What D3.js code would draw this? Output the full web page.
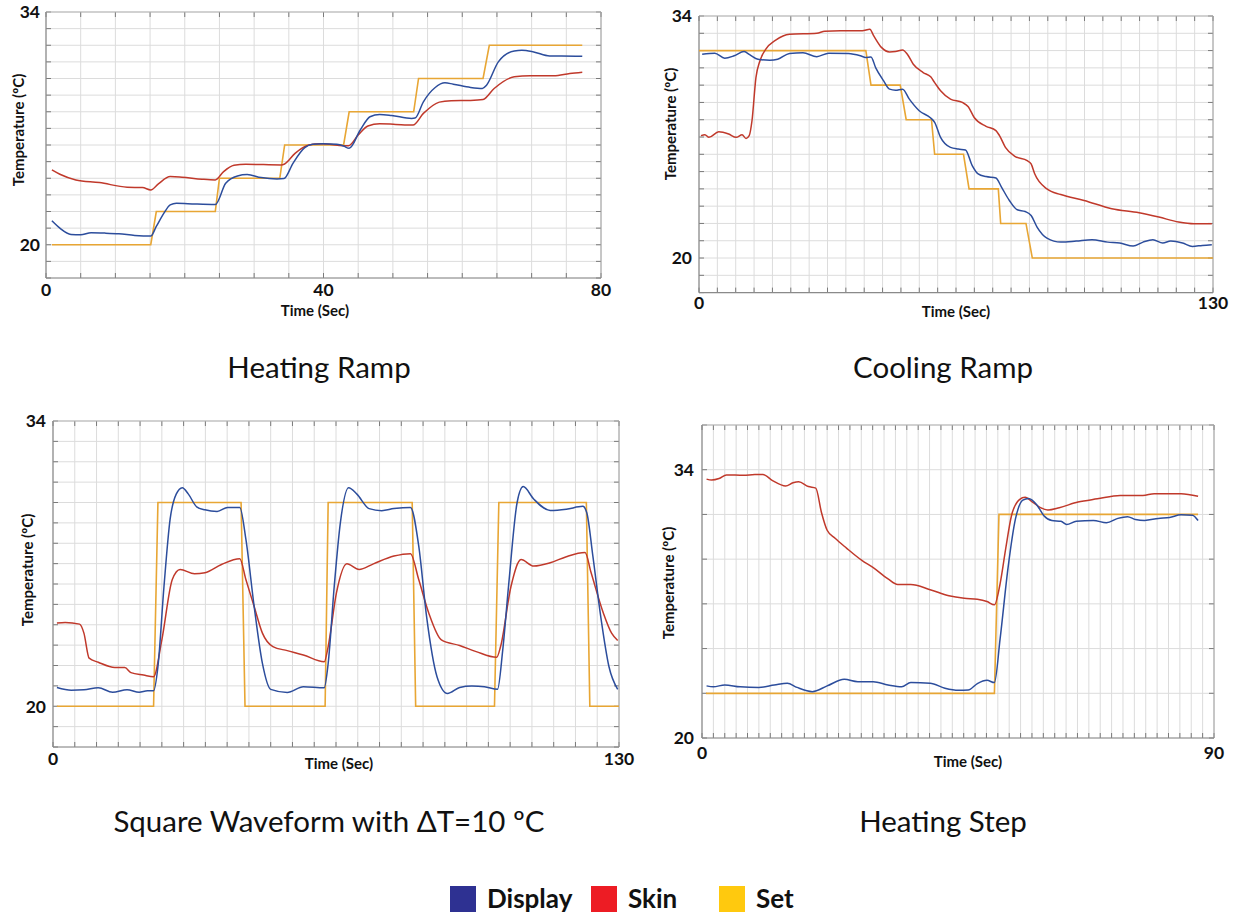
<!DOCTYPE html>
<html><head><meta charset="utf-8">
<script src="https://cdn.jsdelivr.net/npm/d3@7"></script>
<style>body{margin:0;background:#fff}svg{display:block}</style>
</head><body><svg id="c" width="1237" height="915"></svg>
<script>
// ---------- DATA ----------
const seriesNames = ["Display", "Skin", "Set"];
const panelTitles = ["Heating Ramp", "Cooling Ramp", "Square Waveform with \u0394T=10 \u00baC", "Heating Step"];
const yAxisTitle = "Temperature (\u00baC)";
const xAxisTitle = "Time (Sec)";

const rampUpYTicks = [34, 20], rampUpXTicks = [0, 40, 80];
const rampDownYTicks = [34, 20], rampDownXTicks = [0, 130];
const squareYTicks = [34, 20], squareXTicks = [0, 130];
const stepYTicks = [34, 20], stepXTicks = [0, 90];

// Heating ramp
const rampUpSet = [[0.85,20],[15.1,20],[15.9,22],[24.4,22],[25.0,24],[33.7,24],[34.4,26],[42.9,26],[43.7,28],[53.0,28],[53.7,30],[63.0,30],[63.9,32],[77.3,32]];
const rampUpDisplay = [[0.85,21.44],[2.0,21.0],[3.6,20.62],[5.0,20.6],[6.5,20.72],[8.5,20.7],[10.5,20.66],[12.8,20.56],[15.1,20.52],[15.9,21.1],[17.0,21.9],[17.9,22.4],[18.8,22.5],[21.5,22.45],[24.4,22.42],[25.9,23.7],[27.6,24.14],[29.0,24.22],[31.0,24.04],[33.3,23.96],[34.3,23.98],[35.6,24.9],[37.3,25.84],[38.4,26.04],[39.9,26.08],[41.9,26.04],[42.9,25.94],[43.7,25.8],[45.3,26.9],[46.7,27.7],[48.1,27.84],[49.8,27.78],[52.7,27.6],[53.2,27.62],[54.4,28.6],[56.1,29.46],[57.5,29.74],[58.7,29.66],[61.2,29.46],[62.9,29.4],[63.5,29.6],[65.2,31.0],[67.5,31.66],[68.6,31.7],[70.3,31.6],[72.6,31.36],[74.3,31.36],[77.3,31.34]];
const rampUpSkin = [[0.85,24.5],[2.0,24.24],[4.3,23.9],[7.7,23.74],[11.7,23.46],[13.9,23.44],[15.1,23.3],[16.2,23.66],[17.9,24.1],[19.6,24.06],[22.5,23.94],[24.4,23.9],[25.6,24.4],[27.1,24.78],[28.8,24.84],[33.9,24.8],[34.4,24.86],[35.9,25.5],[37.9,26.0],[39.6,26.08],[42.9,25.96],[43.6,25.95],[45.0,26.6],[46.4,27.14],[48.1,27.28],[50.4,27.24],[52.9,27.2],[54.4,27.9],[56.7,28.58],[58.4,28.66],[61.2,28.68],[63.0,28.74],[64.6,29.4],[67.5,30.1],[69.8,30.16],[73.2,30.16],[75.5,30.3],[77.3,30.38]];

// Cooling ramp
const rampDownSet = [[0,32],[42.2,32],[43.5,30],[50.9,30],[52.4,28],[58.8,28],[59.6,26],[66.9,26],[68.3,24],[75.7,24],[76.3,22],[82.7,22],[84.3,20],[130,20]];
const rampDownDisplay = [[0.8,31.79],[4,31.85],[6.5,31.56],[8.9,31.7],[11.4,31.94],[12.9,31.75],[14.9,31.5],[17.9,31.44],[19.9,31.5],[22.9,31.83],[26.3,31.87],[29.8,31.65],[32.8,31.85],[37.8,31.83],[40.8,31.7],[42.2,31.6],[43.5,31.63],[44.7,31.0],[46.7,30.25],[48.2,29.77],[49.7,29.71],[51.5,29.77],[53.2,29.19],[55.7,28.52],[58.6,28.1],[59.6,27.85],[61.1,26.98],[63.6,26.4],[65.6,26.3],[67.4,26.25],[69.1,25.35],[70.6,24.87],[72.6,24.71],[75.1,24.63],[76.5,24.1],[78.5,23.33],[80.5,22.79],[82.5,22.69],[84,22.46],[85.5,21.79],[88,21.15],[91.5,20.92],[95.4,20.98],[99.4,21.06],[103.4,20.92],[106.4,20.87],[109.8,20.69],[112.3,20.92],[114.8,21.06],[117.3,20.87],[119.3,20.98],[122.3,20.87],[124.8,20.67],[127.3,20.73],[129.7,20.77]];
const rampDownSkin = [[0.5,27.08],[1.5,27.13],[2.5,26.98],[5,27.3],[7.5,27.17],[9.4,26.98],[10.9,27.13],[11.9,26.92],[12.7,27.08],[13.4,27.94],[14.4,30.44],[15.4,31.4],[16.9,32.08],[19.4,32.6],[22.9,32.94],[29.8,33.0],[31.8,33.12],[35.8,33.15],[41.3,33.15],[43.2,33.23],[44.2,32.85],[46.2,32.17],[48.2,31.92],[49.7,31.94],[51.5,32.04],[52.7,31.79],[54.2,31.21],[56.7,30.73],[58.6,30.48],[59.6,30.15],[61.1,29.67],[63.6,29.19],[66.6,29.0],[68.1,28.75],[69.6,28.13],[72.6,27.62],[75.1,27.37],[76.0,27.08],[77.5,26.4],[80.0,25.87],[83.0,25.63],[84,25.44],[84.9,24.87],[88,24.0],[91.5,23.67],[97.4,23.33],[104.4,22.85],[111.3,22.62],[116.3,22.37],[121.3,22.08],[125.2,21.98],[129.7,21.98]];

// Square waveform
const squareSet = [[0.9,20],[23.1,20],[24.1,30],[43.2,30],[44.1,20],[62.5,20],[63.2,30],[82.5,30],[83.3,20],[101.4,20],[102.4,30],[122.5,30],[123.3,20],[130,20]];
const squareDisplay = [[0.9,20.92],[4.2,20.79],[7.1,20.81],[10.4,20.91],[13.7,20.69],[17,20.81],[19.8,20.69],[21.7,20.76],[23.1,20.76],[24.1,21.94],[25.5,25.9],[26.9,29.18],[28.3,30.41],[29.7,30.73],[31.1,30.41],[33,29.79],[34.9,29.64],[37.7,29.56],[40.1,29.76],[42.9,29.76],[44.3,28.2],[46.2,24.9],[48.1,22.1],[50,20.83],[53.8,20.68],[57.5,20.96],[62.3,20.91],[63.2,22.1],[64.6,25.9],[66,29.0],[67.9,30.73],[69.8,30.41],[72.6,29.7],[75.5,29.6],[78.3,29.7],[82.1,29.76],[84,27.87],[85.8,24.41],[88.2,21.45],[90.6,20.63],[93.4,20.92],[96.2,20.99],[99.1,20.96],[102.1,20.83],[103.3,22.77],[104.7,26.06],[106.6,30.0],[108.0,30.78],[110.4,30.17],[114.2,29.61],[117.9,29.67],[121.7,29.81],[122.6,29.5],[124,27.37],[125.8,24.41],[127.7,21.94],[129.7,20.83]];
const squareSkin = [[0.9,24.08],[2.8,24.11],[6.1,24.03],[7.1,23.59],[8.3,22.36],[10.4,22.16],[14.2,21.9],[16.5,21.9],[17.9,21.65],[20.8,21.53],[23.1,21.45],[25,23.26],[27.4,26.22],[29.2,26.71],[32.5,26.5],[34.9,26.55],[38.7,26.96],[42.9,27.24],[44.3,26.22],[46.2,24.9],[48.1,23.59],[50.5,22.93],[53.8,22.73],[57.5,22.52],[62.3,22.19],[63.2,22.93],[65.1,25.56],[67.5,26.99],[70.3,26.71],[73.6,26.99],[78.3,27.37],[82.1,27.49],[84,26.22],[86.3,24.58],[89.2,23.26],[93.4,22.98],[97.2,22.68],[101.9,22.4],[102.8,22.93],[105.2,25.89],[107.5,27.2],[110.4,26.88],[114.2,27.04],[117.9,27.34],[122.2,27.54],[123.6,26.55],[126.4,24.58],[128.3,23.59],[129.7,23.23]];

// Heating step
const stepSet = [[0.7,22.33],[51.4,22.33],[52.2,31.67],[87.2,31.67]];
const stepDisplay = [[0.8,22.72],[2,22.67],[4,22.77],[6.7,22.67],[10,22.64],[12.7,22.76],[15,22.86],[16.7,22.64],[19.4,22.42],[22,22.72],[25,23.06],[27.4,22.94],[30.1,22.94],[32.7,22.77],[35.1,22.67],[36.7,22.89],[40.1,22.86],[42.7,22.6],[45.1,22.49],[46.8,22.5],[48.4,22.84],[50.1,23.01],[51.4,22.89],[52.4,25.17],[53.8,28.89],[55.1,31.43],[56.4,32.41],[57.4,32.5],[58.8,32.19],[60.1,31.6],[61.5,31.35],[63.1,31.31],[64.1,31.14],[65.8,31.31],[68.8,31.35],[71.1,31.23],[73.1,31.46],[74.8,31.55],[76.2,31.4],[77.8,31.35],[80.2,31.46],[82.2,31.51],[84.2,31.65],[86.2,31.63],[87.2,31.35]];
const stepSkin = [[0.8,33.51],[1.7,33.46],[3,33.54],[4.3,33.73],[7.3,33.71],[9.3,33.75],[10.7,33.75],[12.4,33.43],[14.7,33.15],[16.0,33.32],[17,33.37],[18.7,33.12],[20,33.04],[21,31.77],[22,30.84],[23.4,30.42],[25.4,29.91],[28.1,29.27],[30.1,28.89],[32.7,28.3],[34.4,28.01],[36.7,28.01],[40.1,27.74],[43.4,27.42],[46.1,27.29],[48.4,27.24],[50.1,27.12],[51.4,26.95],[52.4,28.05],[53.4,29.91],[54.4,31.6],[55.8,32.44],[56.8,32.56],[58.1,32.31],[59.5,32.02],[60.8,31.9],[62.8,32.02],[66.1,32.31],[69.5,32.48],[73.5,32.66],[77.5,32.66],[79.5,32.75],[84.2,32.75],[87.2,32.61]];

// ---------- STYLE / LAYOUT ----------
const lineColors = {Display: "#2c4d9c", Skin: "#c0392b", Set: "#e8a634"};
const legendColors = {Display: "#2e3192", Skin: "#ed1c24", Set: "#ffc90e"};
const FONT = "Lato, 'Open Sans', sans-serif";

const panels = [
  {title: panelTitles[0], titlePos: [319, 378],
   box: {l: 46, r: 601, t: 12, b: 278}, xDom: [0, 80], yDom: [18, 34],
   xGrid: d3.range(0, 80.01, 5), yGrid: d3.range(18, 34.01, 1),
   xTicks: rampUpXTicks, yTicks: rampUpYTicks, xLabDy: 18, yLabDx: -6,
   xTitle: [315, 316], yTitle: [19, 130],
   set: rampUpSet, display: rampUpDisplay, skin: rampUpSkin},
  {title: panelTitles[1], titlePos: [943, 378],
   box: {l: 699, r: 1213, t: 16, b: 292.6}, xDom: [0, 130], yDom: [18, 34],
   xGrid: d3.range(0, 29).map(i => i * 130 / 28), yGrid: d3.range(18, 34.01, 1),
   xTicks: rampDownXTicks, yTicks: rampDownYTicks, xLabDy: 16, yLabDx: -7,
   xTitle: [956, 317], yTitle: [671, 124],
   set: rampDownSet, display: rampDownDisplay, skin: rampDownSkin},
  {title: panelTitles[2], titlePos: [329, 832],
   box: {l: 53, r: 619, t: 421, b: 747}, xDom: [0, 130], yDom: [18, 34],
   xGrid: d3.range(0, 130.01, 5), yGrid: d3.range(18, 34.01, 1),
   xTicks: squareXTicks, yTicks: squareYTicks, xLabDy: 18, yLabDx: -7,
   xTitle: [339, 769], yTitle: [28, 570],
   set: squareSet, display: squareDisplay, skin: squareSkin},
  {title: panelTitles[3], titlePos: [943, 832],
   box: {l: 702, r: 1214, t: 425, b: 738}, xDom: [0, 90], yDom: [20, 34 + 14 / 6],
   xGrid: d3.range(0, 90.01, 2), yGrid: d3.range(0, 8).map(i => 20 + i * 14 / 6),
   xTicks: stepXTicks, yTicks: stepYTicks, xLabDy: 21, yLabDx: -8,
   xTitle: [968, 767], yTitle: [669, 583],
   set: stepSet, display: stepDisplay, skin: stepSkin}
];

const svg = d3.select("#c");
svg.append("rect").attr("width", 1237).attr("height", 915).attr("fill", "#fff");

panels.forEach(p => {
  const b = p.box;
  const x = d3.scaleLinear().domain(p.xDom).range([b.l, b.r]);
  const y = d3.scaleLinear().domain(p.yDom).range([b.b, b.t]);
  const g = svg.append("g");

  // grid
  g.append("g").selectAll("line").data(p.xGrid).join("line")
    .attr("x1", d => x(d)).attr("x2", d => x(d)).attr("y1", b.t).attr("y2", b.b)
    .attr("stroke", "#dcdcdc").attr("stroke-width", 1);
  g.append("g").selectAll("line").data(p.yGrid).join("line")
    .attr("y1", d => y(d)).attr("y2", d => y(d)).attr("x1", b.l).attr("x2", b.r)
    .attr("stroke", "#dcdcdc").attr("stroke-width", 1);

  // inner ticks on all sides
  const tk = 5;
  const tg = g.append("g").attr("stroke", "#7a7a7a").attr("stroke-width", 1);
  tg.selectAll(".xb").data(p.xGrid).join("line").attr("class", "xb")
    .attr("x1", d => x(d)).attr("x2", d => x(d)).attr("y1", b.b).attr("y2", b.b - tk);
  tg.selectAll(".xt").data(p.xGrid).join("line").attr("class", "xt")
    .attr("x1", d => x(d)).attr("x2", d => x(d)).attr("y1", b.t).attr("y2", b.t + tk);
  tg.selectAll(".yl").data(p.yGrid).join("line").attr("class", "yl")
    .attr("y1", d => y(d)).attr("y2", d => y(d)).attr("x1", b.l).attr("x2", b.l + tk);
  tg.selectAll(".yr").data(p.yGrid).join("line").attr("class", "yr")
    .attr("y1", d => y(d)).attr("y2", d => y(d)).attr("x1", b.r).attr("x2", b.r - tk);

  // frame
  g.append("line").attr("x1", b.l).attr("x2", b.r).attr("y1", b.t).attr("y2", b.t).attr("stroke", "#b5b5b5");
  g.append("line").attr("x1", b.r).attr("x2", b.r).attr("y1", b.t).attr("y2", b.b).attr("stroke", "#a0a0a0");
  g.append("line").attr("x1", b.l).attr("x2", b.l).attr("y1", b.t).attr("y2", b.b).attr("stroke", "#8a8a8a").attr("stroke-width", 1.2);
  g.append("line").attr("x1", b.l).attr("x2", b.r).attr("y1", b.b).attr("y2", b.b).attr("stroke", "#8a8a8a").attr("stroke-width", 1.2);

  // series
  const smooth = d3.line().x(d => x(d[0])).y(d => y(d[1])).curve(d3.curveMonotoneX);
  const straight = d3.line().x(d => x(d[0])).y(d => y(d[1]));
  g.append("path").attr("d", straight(p.set)).attr("fill", "none").attr("stroke", lineColors.Set).attr("stroke-width", 1.6);
  g.append("path").attr("d", smooth(p.skin)).attr("fill", "none").attr("stroke", lineColors.Skin).attr("stroke-width", 1.5);
  g.append("path").attr("d", smooth(p.display)).attr("fill", "none").attr("stroke", lineColors.Display).attr("stroke-width", 1.5);

  // tick labels
  g.append("g").selectAll("text").data(p.yTicks).join("text")
    .attr("x", b.l + p.yLabDx).attr("y", d => y(d)).attr("dy", "0.36em")
    .attr("text-anchor", "end").attr("font-family", FONT).attr("font-weight", "bold")
    .attr("font-size", 17.5).attr("fill", "#111").text(d => d);
  g.append("g").selectAll("text").data(p.xTicks).join("text")
    .attr("x", d => x(d)).attr("y", b.b + p.xLabDy)
    .attr("text-anchor", "middle").attr("font-family", FONT).attr("font-weight", "bold")
    .attr("font-size", 17.5).attr("fill", "#111").text(d => d);

  // axis titles
  g.append("text").attr("x", p.xTitle[0]).attr("y", p.xTitle[1])
    .attr("text-anchor", "middle").attr("font-family", FONT).attr("font-weight", "bold")
    .attr("font-size", 15).attr("fill", "#111").text(xAxisTitle);
  g.append("text").attr("transform", `translate(${p.yTitle[0]},${p.yTitle[1]}) rotate(-90)`)
    .attr("dy", "0.35em").attr("text-anchor", "middle").attr("font-family", FONT).attr("font-weight", "bold")
    .attr("font-size", 15).attr("fill", "#111").text(yAxisTitle);

  // panel title
  g.append("text").attr("x", p.titlePos[0]).attr("y", p.titlePos[1])
    .attr("text-anchor", "middle").attr("font-family", FONT)
    .attr("font-size", 29.5).attr("fill", "#111").text(p.title);
});

// legend
const legendX = [450, 591, 719];
const lg = svg.append("g");
seriesNames.forEach((n, i) => {
  lg.append("rect").attr("x", legendX[i]).attr("y", 886).attr("width", 26).attr("height", 26).attr("fill", legendColors[n]);
  lg.append("text").attr("x", legendX[i] + 37).attr("y", 908).attr("font-family", FONT)
    .attr("font-weight", "bold").attr("font-size", 26).attr("fill", "#111").text(n);
});
</script></body></html>
